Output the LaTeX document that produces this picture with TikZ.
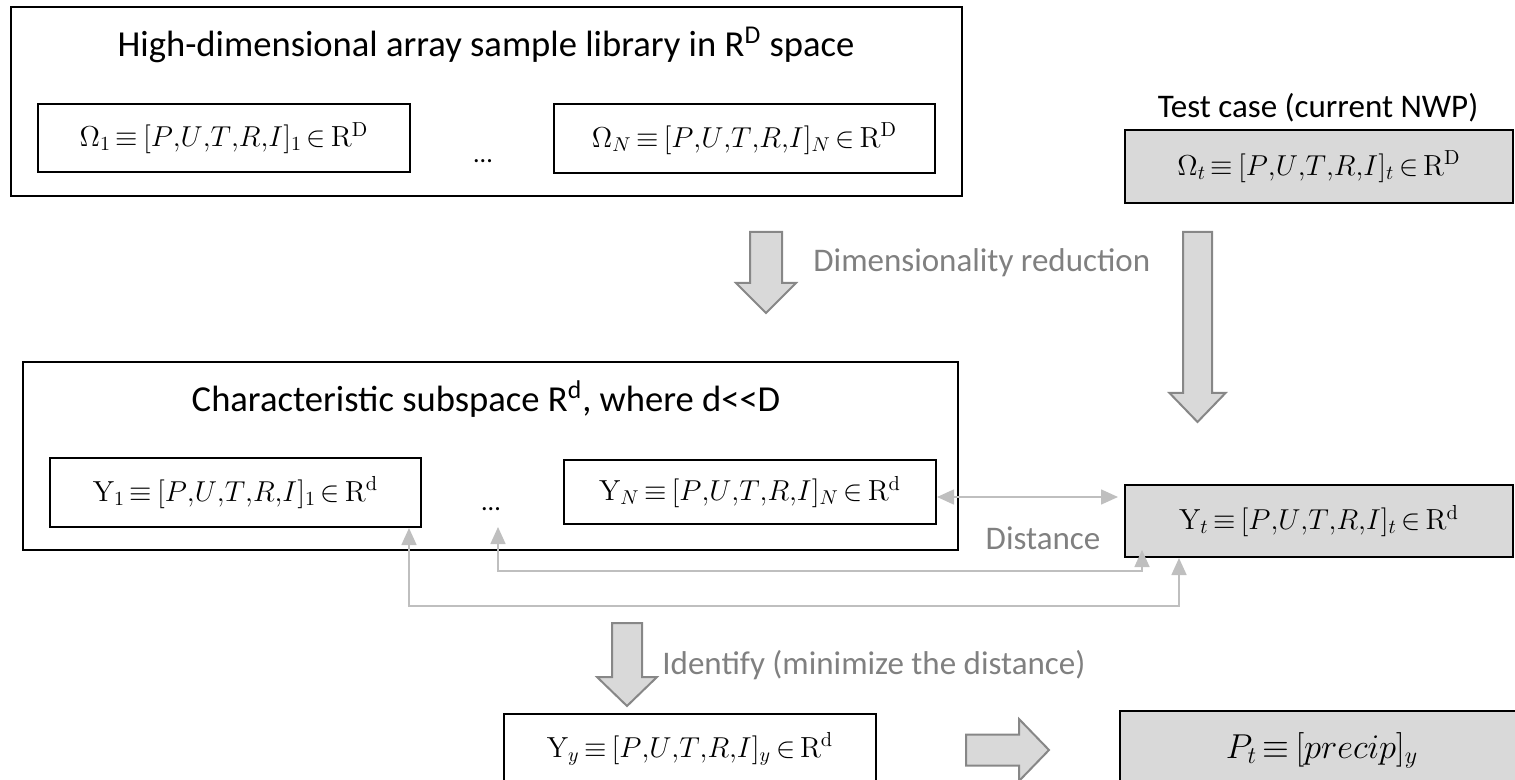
\documentclass[tikz,border=0pt]{standalone}
\usepackage{fontspec}
\newfontfamily\calibri{Carlito}
\usetikzlibrary{arrows.meta,calc}
\definecolor{boxgray}{RGB}{217,217,217}
\definecolor{arrowedge}{RGB}{135,135,135}
\definecolor{conngray}{RGB}{191,191,191}
\definecolor{labelgray}{RGB}{128,128,128}
\newcommand\mfsize{\fontsize{14.5}{17}\selectfont\thickmuskip=3mu plus 2mu\relax}
\newcommand\pfsize{\fontsize{17.5}{20}\selectfont\thickmuskip=3mu plus 2mu\relax}
\newcommand\ttlfont{\calibri\fontsize{18.3}{22}\selectfont}
\newcommand\lblfont{\calibri\fontsize{16.5}{20}\selectfont}
\newcommand\puvec{[P{,}U{,}T{,}R{,}I]}
\begin{document}
\begin{tikzpicture}[x=0.5pt,y=-0.5pt,
  box/.style={draw=black, line width=1pt, inner sep=0pt, font=\mfsize},
  grayfill/.style={fill=boxgray},
  ttl/.style={inner sep=0pt, font=\ttlfont},
  lbl/.style={inner sep=0pt, font=\lblfont, text=labelgray},
  blk/.style={inner sep=0pt, font=\lblfont, text=black},
  dots/.style={inner sep=0pt, font=\calibri\fontsize{13}{15}\selectfont},
  blockarrow/.style={fill=boxgray, draw=arrowedge, line width=1pt, line join=miter},
  conn/.style={draw=conngray, line width=0.8pt, arrows={Triangle[width=7.5pt,length=8.5pt]-Triangle[width=7.5pt,length=8.5pt]}}
]
\clip (0,0) rectangle (1515,780);

% top library box
\node[box, minimum width=475.5pt, minimum height=94.5pt] (lib) at (486.5,101.5) {};
\node[ttl] (libtitle) at (486,45) {High-dimensional array sample library in R\textsuperscript{D} space};
\node[box, minimum width=186pt, minimum height=34pt] (om1) at (224,138) {$\Omega_1 \equiv \puvec_1 \in \mathrm{R}^{\mathrm{D}}$};
\node[box, minimum width=190.5pt, minimum height=34.5pt] (omN) at (744.5,138.5) {$\Omega_N \equiv \puvec_N \in \mathrm{R}^{\mathrm{D}}$};
\node[dots] (dots1) at (483,161) {...};

% test case
\node[blk] (testlbl) at (1318,108) {Test case (current NWP)};
\node[box, grayfill, minimum width=194pt, minimum height=36.5pt] (omt) at (1319,166.5) {$\Omega_t \equiv \puvec_t \in \mathrm{R}^{\mathrm{D}}$};

% dimensionality reduction arrows
\draw[blockarrow] (750,232) -- (782,232) -- (782,283) -- (796,283) -- (766,313) -- (736,283) -- (750,283) -- cycle;
\node[lbl, anchor=west] (dimred) at (813,263) {Dimensionality reduction};
\draw[blockarrow] (1183,232) -- (1212,232) -- (1212,393) -- (1225.5,393) -- (1197.5,422) -- (1169.5,393) -- (1183,393) -- cycle;

% characteristic subspace box
\node[box, minimum width=467.5pt, minimum height=94pt] (sub) at (490.5,456) {};
\node[ttl] (subtitle) at (486,399) {Characteristic subspace R\textsuperscript{d}, where d<{}<D};
\node[box, minimum width=185.5pt, minimum height=34.5pt] (Y1) at (235.5,492.5) {$\mathrm{Y}_1 \equiv \puvec_1 \in \mathrm{R}^{\mathrm{d}}$};
\node[box, minimum width=186pt, minimum height=32pt] (YN) at (750,492) {$\mathrm{Y}_N \equiv \puvec_N \in \mathrm{R}^{\mathrm{d}}$};
\node[dots] (dots2) at (491,509) {...};

% test case reduced
\node[box, grayfill, minimum width=194pt, minimum height=36pt] (Yt) at (1319,521) {$\mathrm{Y}_t \equiv \puvec_t \in \mathrm{R}^{\mathrm{d}}$};
\node[lbl] (dist) at (1043,538) {Distance};

% distance connectors
\draw[conn] ($(YN.east)+(0,5)$) -- ($(Yt.west)+(-6,-24)$);
\coordinate (dA) at (498,527);
\coordinate (ytA) at ($(Yt.south west)+(18,-8)$);
\draw[conn] (dA) -- ++(0,44) -| (ytA);
\draw[conn] ($(Y1.south east)+(-13,0)$) -- ++(0,78) -| ($(Yt.south west)+(55,0)$);

% identify
\draw[blockarrow] (612,623) -- (642,623) -- (642,677) -- (657,677) -- (627,706) -- (597,677) -- (612,677) -- cycle;
\node[lbl, anchor=west] (ident) at (662,665) {Identify (minimize the distance)};
\node[box, minimum width=186pt, minimum height=35pt] (Yy) at (690,749) {$\mathrm{Y}_y \equiv \puvec_y \in \mathrm{R}^{\mathrm{d}}$};

% result
\draw[blockarrow] (966,734.5) -- (1019,734.5) -- (1019,719) -- (1049,750) -- (1019,781) -- (1019,765.5) -- (966,765.5) -- cycle;
\node[box, grayfill, minimum width=202pt, minimum height=39.5pt, font=\pfsize] (Pt) at (1322,750.5) {$P_t \equiv [precip]_y$};
\end{tikzpicture}
\end{document}
